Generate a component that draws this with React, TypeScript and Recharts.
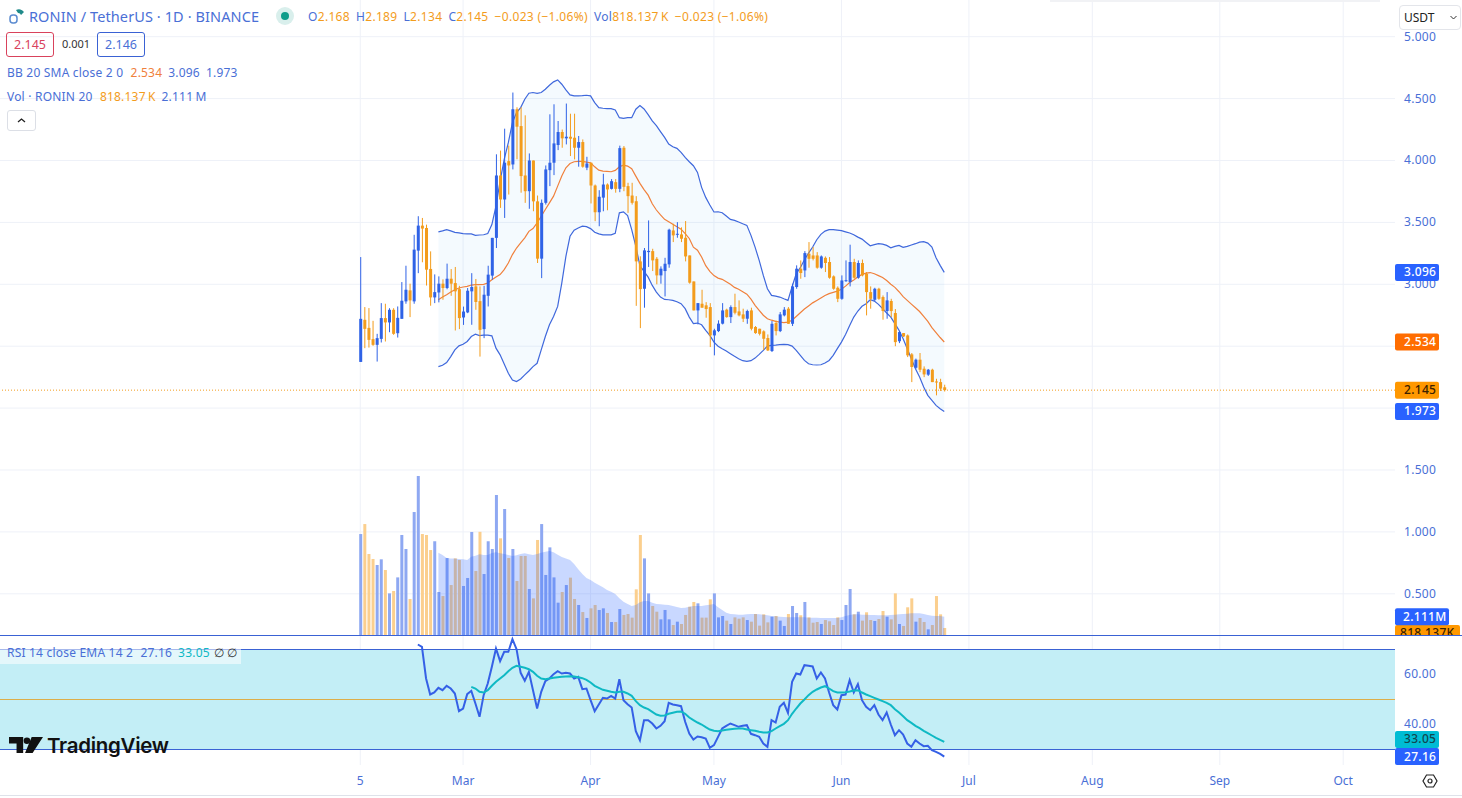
import { Area, Bar, CartesianGrid, ComposedChart, Line, ReferenceArea, ReferenceLine, XAxis, YAxis } from 'recharts'

// daily candles, index 0 is the 5th of February
const opens = [2.373, 2.713, 2.648, 2.557, 2.511, 2.559, 2.727, 2.692, 2.794, 2.605, 2.721, 2.862, 2.951, 2.862, 3.272, 3.474, 3.455, 3.124, 2.894, 2.934,
  3.005, 2.97, 3.045, 3.01, 2.961, 2.732, 2.773, 2.943, 2.983, 2.864, 2.638, 2.907, 3.07, 3.375, 3.879, 3.685, 3.995, 3.968, 4.414, 4.278,
  3.879, 3.752, 4.0, 3.67, 3.207, 3.658, 3.922, 3.982, 4.125, 4.23, 4.179, 4.192, 4.184, 4.103, 4.149, 3.942, 3.982, 3.798, 3.582, 3.7,
  3.806, 3.771, 3.825, 3.771, 4.103, 3.793, 3.717, 3.671, 3.185, 2.964, 3.26, 3.268, 3.206, 3.072, 3.107, 3.161, 3.435, 3.4, 3.403, 3.376,
  3.233, 3.023, 2.789, 2.843, 2.83, 2.816, 2.587, 2.622, 2.682, 2.795, 2.735, 2.816, 2.781, 2.757, 2.722, 2.789, 2.655, 2.641, 2.62, 2.566,
  2.461, 2.687, 2.622, 2.749, 2.803, 2.681, 2.978, 3.126, 3.112, 3.247, 3.233, 3.233, 3.134, 3.214, 3.18, 3.064, 2.972, 2.883, 3.03, 3.018,
  3.18, 3.053, 3.172, 3.085, 2.937, 2.875, 2.964, 2.897, 2.784, 2.865, 2.768, 2.54, 2.606, 2.587, 2.434, 2.326, 2.391, 2.318, 2.27, 2.31, 2.215, 2.21, 2.168]
const closes = [2.721, 2.64, 2.551, 2.511, 2.565, 2.727, 2.692, 2.794, 2.6, 2.729, 2.867, 2.956, 2.87, 3.28, 3.474, 3.45, 3.118, 2.894, 2.937, 3.005,
  2.97, 3.045, 3.005, 2.943, 2.727, 2.78, 2.948, 2.978, 2.857, 2.632, 2.916, 3.078, 3.375, 3.879, 3.685, 3.982, 3.96, 4.414, 4.273, 3.874,
  3.752, 4.0, 3.67, 3.207, 3.658, 3.928, 3.982, 4.138, 4.23, 4.179, 4.192, 4.176, 4.103, 4.149, 3.95, 3.976, 3.798, 3.582, 3.707, 3.806,
  3.766, 3.833, 3.771, 4.1, 3.787, 3.712, 3.658, 3.185, 2.961, 3.274, 3.27, 3.193, 3.072, 3.126, 3.166, 3.441, 3.395, 3.408, 3.368, 3.225,
  3.013, 2.789, 2.848, 2.811, 2.8, 2.587, 2.628, 2.682, 2.789, 2.735, 2.816, 2.77, 2.749, 2.722, 2.784, 2.641, 2.606, 2.6, 2.56, 2.466,
  2.681, 2.622, 2.757, 2.795, 2.681, 2.983, 3.126, 3.091, 3.252, 3.206, 3.206, 3.134, 3.225, 3.172, 3.053, 2.964, 2.883, 3.031, 3.033, 3.18,
  3.053, 3.172, 3.072, 2.937, 2.883, 2.964, 2.883, 2.784, 2.87, 2.784, 2.533, 2.614, 2.579, 2.426, 2.332, 2.391, 2.31, 2.272, 2.31, 2.21, 2.21, 2.157, 2.145]
const highs = [3.22, 2.816, 2.808, 2.705, 2.6, 2.848, 2.843, 2.807, 2.807, 2.821, 3.018, 3.15, 3.005, 3.4, 3.55, 3.536, 3.482, 3.266, 3.08, 3.064,
  3.04, 3.167, 3.123, 3.14, 2.988, 2.82, 2.97, 3.09, 3.043, 2.983, 2.988, 3.15, 3.375, 4.05, 4.08, 4.257, 4.12, 4.549, 4.43, 4.43,
  4.365, 4.057, 4.0, 3.717, 3.685, 3.96, 4.373, 4.454, 4.319, 4.25, 4.46, 4.378, 4.378, 4.198, 4.17, 4.03, 3.982, 3.806, 3.76, 3.893,
  3.815, 3.85, 3.85, 4.12, 4.117, 3.82, 3.82, 3.712, 3.226, 3.293, 3.516, 3.287, 3.22, 3.145, 3.214, 3.449, 3.489, 3.502, 3.46, 3.511,
  3.233, 3.023, 2.848, 2.956, 2.856, 2.848, 2.641, 2.709, 2.848, 2.803, 2.83, 2.924, 2.87, 2.803, 2.795, 2.811, 2.663, 2.641, 2.628, 2.595,
  2.703, 2.708, 2.776, 2.816, 2.816, 3.005, 3.153, 3.193, 3.268, 3.341, 3.301, 3.26, 3.233, 3.225, 3.22, 3.072, 2.983, 3.072, 3.193, 3.32,
  3.206, 3.193, 3.2, 3.099, 2.983, 2.972, 2.972, 2.91, 2.937, 2.883, 2.8, 2.622, 2.606, 2.595, 2.445, 2.4, 2.445, 2.337, 2.316, 2.318, 2.237, 2.237, 2.189]
const lows = [2.373, 2.484, 2.489, 2.503, 2.376, 2.53, 2.538, 2.613, 2.592, 2.57, 2.721, 2.843, 2.735, 2.843, 3.09, 3.178, 2.99, 2.827, 2.848, 2.854,
  2.875, 2.96, 2.907, 2.627, 2.638, 2.672, 2.767, 2.673, 2.794, 2.416, 2.565, 2.821, 3.037, 3.293, 3.617, 3.536, 3.725, 3.928, 4.01, 3.74,
  3.658, 3.61, 3.59, 3.172, 3.05, 3.644, 3.793, 3.882, 4.084, 4.103, 4.13, 4.036, 4.009, 3.95, 3.942, 3.922, 3.653, 3.51, 3.469, 3.59,
  3.598, 3.766, 3.74, 3.744, 3.752, 3.577, 3.644, 2.826, 2.646, 2.811, 3.14, 3.107, 3.0, 3.005, 2.902, 3.134, 3.341, 3.376, 3.341, 3.185,
  3.005, 2.789, 2.676, 2.811, 2.73, 2.493, 2.426, 2.614, 2.676, 2.73, 2.687, 2.757, 2.741, 2.695, 2.681, 2.628, 2.6, 2.587, 2.47, 2.461,
  2.453, 2.587, 2.614, 2.741, 2.681, 2.663, 2.964, 3.045, 3.058, 3.134, 3.193, 3.126, 3.126, 3.099, 3.045, 2.956, 2.856, 2.875, 3.02, 2.983,
  3.045, 3.045, 3.064, 2.749, 2.803, 2.864, 2.875, 2.714, 2.722, 2.735, 2.5, 2.525, 2.574, 2.412, 2.21, 2.318, 2.29, 2.25, 2.26, 2.21, 2.103, 2.138, 2.134]

// volume in millions
const volumes = [11.74, 12.9, 9.42, 8.84, 8.14, 8.8, 7.56, 4.84, 5.12, 6.7, 11.63, 10.0, 4.19, 14.3, 18.49, 11.74, 11.63, 9.88, 10.9, 5.0,
  4.53, 8.95, 5.81, 8.91, 8.72, 5.7, 6.63, 11.98, 7.44, 12.0, 7.09, 10.9, 10.0, 16.28, 11.24, 14.65, 8.95, 10.0, 6.28, 9.19,
  9.19, 5.35, 4.26, 11.05, 12.9, 6.98, 10.19, 6.7, 3.76, 5.0, 5.81, 6.67, 4.19, 3.49, 2.67, 1.98, 3.1, 3.49, 2.91, 3.1,
  2.56, 1.51, 1.51, 3.02, 2.33, 2.44, 2.02, 5.31, 11.63, 8.91, 4.84, 3.37, 2.71, 1.82, 2.91, 1.82, 1.16, 1.55, 1.28, 2.33,
  3.29, 3.84, 3.68, 2.02, 2.02, 4.15, 4.84, 2.05, 2.21, 1.67, 1.28, 2.05, 1.9, 2.05, 1.74, 1.55, 2.44, 1.09, 2.4, 1.47,
  2.13, 2.21, 1.67, 1.05, 2.44, 3.37, 2.56, 2.29, 3.84, 2.05, 1.43, 1.51, 1.28, 1.74, 1.59, 1.16, 2.05, 1.74, 3.49, 5.35,
  2.4, 2.71, 1.67, 2.64, 1.74, 1.63, 1.86, 2.79, 2.13, 1.82, 4.84, 1.28, 1.05, 3.22, 4.26, 1.55, 1.98, 1.51, 0.66, 1.16, 4.53, 2.4, 0.818]

// bollinger bands and volume average start at candle 19
const bbStart = 19
const bbUpper = [3.423, 3.432, 3.442, 3.431, 3.42, 3.415, 3.41, 3.408, 3.407, 3.396, 3.398, 3.4, 3.41, 3.482, 3.631, 3.833, 4.009, 4.144, 4.306, 4.387, 4.427,
  4.495, 4.543, 4.549, 4.543, 4.549, 4.576, 4.608, 4.635, 4.651, 4.616, 4.57, 4.53, 4.522, 4.522, 4.524, 4.527, 4.522, 4.468, 4.427, 4.422,
  4.419, 4.419, 4.408, 4.346, 4.341, 4.346, 4.346, 4.414, 4.443, 4.416, 4.37, 4.32, 4.281, 4.233, 4.187, 4.133, 4.111, 4.098, 4.065, 4.025,
  3.99, 3.958, 3.904, 3.783, 3.702, 3.64, 3.584, 3.586, 3.578, 3.551, 3.524, 3.516, 3.503, 3.489, 3.476, 3.395, 3.3, 3.193, 3.072, 2.964,
  2.91, 2.905, 2.897, 2.883, 2.87, 2.98, 3.085, 3.134, 3.198, 3.252, 3.301, 3.36, 3.403, 3.43, 3.441, 3.441, 3.438, 3.433, 3.424, 3.414,
  3.4, 3.381, 3.365, 3.338, 3.311, 3.32, 3.328, 3.325, 3.314, 3.295, 3.306, 3.314, 3.298, 3.306, 3.317, 3.328, 3.341, 3.344, 3.333, 3.301, 3.214, 3.153, 3.096]
const bbBasis = [2.875, 2.897, 2.916, 2.937, 2.956, 2.97, 2.978, 2.983, 2.994, 2.997, 2.997, 3.0, 3.01, 3.037, 3.059, 3.078, 3.118, 3.172, 3.24, 3.293, 3.334,
  3.375, 3.428, 3.45, 3.496, 3.55, 3.604, 3.658, 3.712, 3.793, 3.874, 3.941, 3.976, 3.99, 3.993, 3.993, 3.987, 3.982, 3.949, 3.922, 3.914,
  3.912, 3.909, 3.92, 3.949, 3.963, 3.955, 3.933, 3.874, 3.815, 3.765, 3.72, 3.65, 3.6, 3.56, 3.525, 3.505, 3.485, 3.465, 3.445, 3.41,
  3.37, 3.3, 3.275, 3.22, 3.15, 3.105, 3.07, 3.05, 3.04, 3.02, 3.0, 2.975, 2.96, 2.94, 2.92, 2.88, 2.83, 2.79, 2.75, 2.722,
  2.71, 2.7, 2.695, 2.69, 2.695, 2.71, 2.74, 2.77, 2.8, 2.825, 2.85, 2.87, 2.89, 2.91, 2.925, 2.935, 2.945, 2.96, 2.985, 3.015,
  3.035, 3.06, 3.08, 3.09, 3.095, 3.085, 3.07, 3.055, 3.03, 3.0, 2.975, 2.94, 2.9, 2.87, 2.84, 2.81, 2.78, 2.74, 2.7, 2.65, 2.61, 2.57, 2.534]
const bbLower = [2.335, 2.346, 2.368, 2.416, 2.47, 2.503, 2.516, 2.538, 2.578, 2.597, 2.586, 2.589, 2.589, 2.584, 2.484, 2.43, 2.357, 2.281, 2.227, 2.214, 2.235,
  2.268, 2.3, 2.335, 2.362, 2.47, 2.578, 2.673, 2.74, 2.821, 3.01, 3.226, 3.388, 3.437, 3.455, 3.469, 3.466, 3.45, 3.42, 3.407, 3.4,
  3.4, 3.4, 3.412, 3.577, 3.585, 3.555, 3.442, 3.307, 3.15, 3.105, 3.058, 2.991, 2.937, 2.897, 2.878, 2.875, 2.87, 2.859, 2.843, 2.803,
  2.735, 2.682, 2.687, 2.673, 2.628, 2.587, 2.533, 2.5, 2.48, 2.461, 2.439, 2.418, 2.399, 2.383, 2.377, 2.383, 2.404, 2.434, 2.466, 2.501,
  2.507, 2.509, 2.512, 2.515, 2.512, 2.501, 2.466, 2.426, 2.385, 2.358, 2.35, 2.348, 2.35, 2.364, 2.385, 2.426, 2.48, 2.533, 2.595, 2.668,
  2.735, 2.784, 2.822, 2.843, 2.875, 2.864, 2.838, 2.803, 2.768, 2.735, 2.682, 2.628, 2.56, 2.48, 2.399, 2.318, 2.251, 2.17, 2.103, 2.062, 2.022, 1.995, 1.973]
const volMa = [9.57, 9.3, 8.95, 8.91, 8.91, 8.84, 8.8, 8.72, 9.11, 9.22, 9.38, 9.3, 9.3, 9.53, 9.61, 9.5, 9.42, 9.3, 9.19, 9.26, 9.42,
  9.5, 9.38, 9.3, 9.42, 9.57, 9.69, 9.77, 9.61, 9.34, 9.07, 8.91, 8.72, 8.26, 7.64, 7.09, 6.63, 6.4, 6.09, 5.81, 5.54,
  5.23, 5.04, 4.77, 4.26, 3.88, 3.6, 3.37, 3.49, 3.8, 3.95, 3.95, 3.76, 3.6, 3.57, 3.53, 3.49, 3.37, 3.26, 3.14, 3.18,
  3.29, 3.37, 3.37, 3.37, 3.45, 3.53, 3.6, 3.22, 2.91, 2.6, 2.44, 2.4, 2.36, 2.36, 2.4, 2.44, 2.44, 2.4, 2.36, 2.29,
  2.21, 2.17, 2.13, 2.09, 2.05, 2.05, 2.05, 2.05, 2.05, 2.02, 2.02, 2.02, 1.98, 1.98, 1.98, 1.98, 1.98, 2.05, 2.21, 2.33,
  2.4, 2.4, 2.36, 2.36, 2.33, 2.33, 2.29, 2.29, 2.29, 2.33, 2.36, 2.4, 2.44, 2.48, 2.52, 2.52, 2.52, 2.44, 2.33, 2.25, 2.21, 2.21, 2.111]

const rsiStart = 14
const rsiValues = [72, 71.07, 58.4, 52, 52.8, 54.67, 53.73, 55.47, 54.4, 52.4, 45.33, 46.4, 52.13, 53.47, 48.4, 43.07, 51.73, 56.4, 63.07, 70.4,
  65.33, 69.07, 69.07, 74.13, 70.13, 60.67, 57.47, 61.07, 53.73, 46.4, 53.07, 57.33, 58.4, 60.13, 61.33, 60.4, 60.67, 60.4, 58.4, 59.07,
  54.13, 54.4, 49.73, 45.33, 48, 50.67, 50.4, 51.47, 50.4, 58.13, 49.73, 48.13, 46.8, 37.33, 33.73, 41.73, 41.73, 40.4, 38.4, 39.47,
  41.33, 48.67, 48, 47.73, 47.33, 41.07, 36.4, 34, 35.2, 34.93, 34.4, 30.67, 31.73, 35.07, 38.4, 39.47, 40.4, 39.73, 39.07, 39.47,
  39.73, 36.27, 35.73, 35.07, 32.4, 31.07, 41.73, 40.8, 47.07, 48.67, 44.67, 57.07, 60.4, 60, 63.73, 63.47, 63.2, 58.4, 60.8, 58.4,
  52.8, 47.73, 46, 51.73, 52, 57.73, 52.8, 56.13, 49.73, 47.07, 45.73, 47.73, 44, 41.73, 44.8, 40, 35.73, 37.73, 36, 32.4,
  31.07, 33.73, 32.4, 31.33, 31.47, 29.73, 29.07, 28.27, 27.16]
const rsiEmaStart = 27
const rsiEma = [55.07, 54.4, 53.07, 52.8, 53.73, 55.47, 57.07, 58.4, 59.73, 61.33, 62.67, 63.47, 63.07, 62.67, 62.13, 61.07, 59.47, 58.4, 58.13, 58.4,
  58.67, 58.93, 59.07, 59.2, 59.33, 59.2, 58.93, 58.53, 57.87, 56.8, 55.47, 54.67, 53.87, 53.47, 53.07, 52.8, 53.07, 53.07, 52.4, 51.47,
  49.33, 47.73, 46.8, 46.13, 45.07, 44, 43.47, 43.6, 44.27, 44.67, 45.07, 45.2, 44.27, 42.8, 41.73, 40.8, 40, 38.93, 38, 37.47,
  37.33, 37.6, 37.87, 38.13, 38.27, 38.4, 38.4, 38, 37.73, 37.47, 37.07, 36.8, 36.8, 37.33, 38.4, 39.33, 40.27, 41.73, 44.27, 46.4,
  48.4, 50, 51.73, 53.07, 54, 54.8, 55.33, 54.4, 53.33, 52.8, 52.8, 52.93, 53.2, 53.6, 53.73, 52.8, 52, 51.33, 50.67, 50,
  49.33, 48.67, 47.73, 46.13, 44.8, 43.33, 41.73, 40.67, 39.47, 38.53, 37.47, 36.53, 35.6, 34.67, 33.87, 33.05]

const timeTicks = [0, 25, 56, 86, 117, 148, 178, 209, 239]
const timeLabels = ['5', 'Mar', 'Apr', 'May', 'Jun', 'Jul', 'Aug', 'Sep', 'Oct']
const priceTicks = [0.5, 1, 1.5, 3, 3.5, 4, 4.5, 5]
const priceGrid = [0.5, 1, 1.5, 2, 2.5, 3, 3.5, 4, 4.5, 5]
const rsiTicks = [60, 40]

const BLUE = '#2f62e6'
const ORANGE = '#f39c1c'
const TEXT_BLUE = '#4a6fd6'
const FONT = '"Noto Sans", sans-serif'

const rows = opens.map((open, i) => ({
  i,
  open,
  close: closes[i],
  high: highs[i],
  low: lows[i],
  volume: volumes[i],
  upper: i >= bbStart ? bbUpper[i - bbStart] : null,
  basis: i >= bbStart ? bbBasis[i - bbStart] : null,
  lower: i >= bbStart ? bbLower[i - bbStart] : null,
  volMa: i >= bbStart ? volMa[i - bbStart] : null,
  rsi: i >= rsiStart ? rsiValues[i - rsiStart] : null,
  rsiEma: i >= rsiEmaStart ? rsiEma[i - rsiEmaStart] : null,
}))

// same time scale on both panes, x = 360.3 + 4.113 * index
const timeDomain = [-87.6, 251.6]

const priceTags: any = {
  3.096: { text: '3.096', bg: '#2962ff', color: '#fff', dy: 0 },
  2.534: { text: '2.534', bg: '#ff6d00', color: '#fff', dy: 0 },
  2.145: { text: '2.145', bg: '#ff9800', color: '#3b2100', dy: 0 },
  1.973: { text: '1.973', bg: '#2962ff', color: '#fff', dy: 0 },
}
const rsiTags: any = {
  33.05: { text: '33.05', bg: '#00bcd4', color: '#10474f', dy: -2.5 },
  27.16: { text: '27.16', bg: '#2962ff', color: '#fff', dy: 0 },
}

function Tag({ x, y, tag, width = 44, pad = 9 }: any) {
  return (
    <g>
      <rect x={x} y={y + tag.dy - 8.5} width={width} height={17} rx={2} fill={tag.bg} />
      <text x={x + pad} y={y + tag.dy + 4} fontSize={12} fontFamily={FONT} fontWeight={500} letterSpacing={0.3} fill={tag.color}>{tag.text}</text>
    </g>
  )
}

// the axis hands over x 8px right of the pane edge
function axisTick(tags: any, format: (v: number) => string, textDy = 4) {
  return ({ x, y, payload }: any) => {
    const tag = tags[payload.value]
    if (tag) return <Tag x={x - 8} y={y} tag={tag} />
    return (
      <text x={x + 1} y={y + textDy} fontSize={12} fontFamily={FONT} letterSpacing={0.3} fill={TEXT_BLUE}>{format(payload.value)}</text>
    )
  }
}

function Candle({ x, y, width, height, payload }: any) {
  const { open, close, high, low } = payload
  const color = close >= open ? BLUE : ORANGE
  const perUnit = height / (high - low)
  const top = y + (high - Math.max(open, close)) * perUnit
  const bodyH = Math.max(1, Math.abs(close - open) * perUnit)
  const mid = x + width / 2
  return (
    <g>
      <rect x={mid - 0.5} y={y} width={1} height={height} fill={color} />
      <rect x={mid - 1.5} y={top} width={3} height={bodyH} fill={color} />
    </g>
  )
}

function VolumeBar({ x, y, width, height, payload }: any) {
  const color = payload.close >= payload.open ? '#8ea8f2' : '#fbcf8e'
  return <rect x={x} y={y} width={width} height={height} fill={color} />
}

function volumeTag(tag: any, width: number, pad: number) {
  return ({ viewBox }: any) => <Tag x={viewBox.x + viewBox.width} y={viewBox.y} tag={tag} width={width} pad={pad} />
}

function PriceChart() {
  return (
    <ComposedChart width={1462} height={635} data={rows} margin={{ top: 0, right: 0, bottom: 0, left: 0 }}>
      <CartesianGrid stroke="#eef1f8" horizontalValues={priceGrid} verticalValues={timeTicks} yAxisId="price" xAxisId="price" />
      <XAxis xAxisId="price" dataKey="i" type="number" domain={timeDomain} hide />
      <XAxis xAxisId="vol" dataKey="i" type="number" domain={timeDomain} hide />
      <YAxis
        yAxisId="price"
        orientation="right"
        width={67}
        domain={[0.1672, 5.2964]}
        ticks={[...priceTicks, 1.973, 3.096, 2.534, 2.145]}
        interval={0}
        axisLine={false}
        tickLine={false}
        tick={axisTick(priceTags, v => v.toFixed(3))}
      />
      <YAxis yAxisId="vol" hide domain={[0, 73.84]} />
      <Bar xAxisId="vol" yAxisId="vol" dataKey="volume" barSize={3} shape={<VolumeBar />} isAnimationActive={false} />
      <Area xAxisId="vol" yAxisId="vol" dataKey="volMa" stroke="none" fill="#2962ff" fillOpacity={0.25} baseValue={0} dot={false} activeDot={false} isAnimationActive={false} {...({ zIndex: 350 } as any)} />
      <Area
        xAxisId="price"
        yAxisId="price"
        dataKey={(r: any) => (r.upper == null ? [null, null] : [r.lower, r.upper])}
        stroke="none"
        fill="#2196f3"
        fillOpacity={0.05}
        dot={false}
        activeDot={false}
        isAnimationActive={false}
      />
      <Line xAxisId="price" yAxisId="price" dataKey="upper" stroke="#3f68dc" strokeWidth={1.2} dot={false} activeDot={false} isAnimationActive={false} />
      <Line xAxisId="price" yAxisId="price" dataKey="lower" stroke="#3f68dc" strokeWidth={1.2} dot={false} activeDot={false} isAnimationActive={false} />
      <Line xAxisId="price" yAxisId="price" dataKey="basis" stroke="#f0803c" strokeWidth={1.2} dot={false} activeDot={false} isAnimationActive={false} />
      <ReferenceLine xAxisId="price" yAxisId="price" y={2.145} stroke={ORANGE} strokeDasharray="1 2" />
      <Bar xAxisId="price" yAxisId="price" dataKey={(r: any) => [r.low, r.high]} barSize={3} shape={<Candle />} isAnimationActive={false} {...({ zIndex: 500 } as any)} />
      <ReferenceLine xAxisId="vol" yAxisId="vol" y={0.818} stroke="none" label={volumeTag({ text: '818.137K', bg: '#ff9800', color: '#3b2100', dy: 5.5 }, 65, 5)} />
      <ReferenceLine xAxisId="vol" yAxisId="vol" y={2.111} stroke="none" label={volumeTag({ text: '2.111M', bg: '#2962ff', color: '#fff', dy: 0 }, 54, 8)} />
    </ComposedChart>
  )
}

function RsiChart() {
  return (
    <ComposedChart width={1462} height={159} data={rows} margin={{ top: 0, right: 0, bottom: 0, left: 0 }}>
      <CartesianGrid stroke="#eef1f8" horizontal={false} verticalValues={timeTicks} />
      <XAxis
        dataKey="i"
        type="number"
        domain={timeDomain}
        ticks={timeTicks}
        interval={0}
        height={30}
        axisLine={false}
        tickLine={false}
        tickMargin={5}
        tick={{ fontSize: 12, fontFamily: FONT, fill: TEXT_BLUE }}
        tickFormatter={(v: number) => timeLabels[timeTicks.indexOf(v)]}
      />
      <YAxis
        orientation="right"
        width={67}
        domain={[23.8, 75.4]}
        ticks={[...rsiTicks, 33.05, 27.16]}
        interval={0}
        axisLine={false}
        tickLine={false}
        tick={axisTick(rsiTags, v => v.toFixed(2), 3)}
      />
      <ReferenceArea y1={30} y2={70} fill="#c3eef6" fillOpacity={1} stroke="none" />
      <ReferenceLine y={70} stroke="#3a62d4" />
      <ReferenceLine y={30} stroke="#3a62d4" />
      <ReferenceLine y={50} stroke="#dcae4a" />
      <Line dataKey="rsi" stroke="#3560e6" strokeWidth={2} dot={false} activeDot={false} isAnimationActive={false} />
      <Line dataKey="rsiEma" stroke="#0fb9c4" strokeWidth={2} dot={false} activeDot={false} isAnimationActive={false} />
    </ComposedChart>
  )
}

const legendRow = { position: 'absolute', left: 7, whiteSpace: 'nowrap', fontSize: 12, letterSpacing: 0.2 } as any
const ohlcGap = { marginLeft: 6 }

export default function App() {
  return (
    <div style={{ position: 'absolute', left: 0, top: 0, width: 1462, height: 798, overflow: 'hidden', background: '#fff', fontFamily: FONT, color: TEXT_BLUE }}>
      <div style={{ position: 'absolute', left: 0, top: 0 }}><PriceChart /></div>
      <div style={{ position: 'absolute', left: 0, top: 635, width: 1462, height: 1, background: '#3a62d4' }} />
      <div style={{ position: 'absolute', left: 0, top: 636 }}><RsiChart /></div>
      <div style={{ position: 'absolute', left: 0, top: 795, width: 1462, height: 1, background: '#dfe2ea' }} />
      <div style={{ position: 'absolute', left: 1050, top: 0, width: 330, height: 2, background: '#f1f2f5' }} />

      {/* header */}
      <svg style={{ position: 'absolute', left: 8, top: 7 }} width={18} height={17} viewBox="0 0 18 17">
        <path d="M8 3 A6 6 0 0 1 16 5 L13 8 A3 3 0 0 0 10 6 Z" fill="#1f8a8a" />
        <rect x={2} y={8} width={7} height={8} rx={3} fill="none" stroke="#5b8bd0" strokeWidth={1.5} />
      </svg>
      <div style={{ position: 'absolute', left: 29, top: 6, fontSize: 14.5, letterSpacing: 0.1, whiteSpace: 'nowrap' }}>RONIN / TetherUS · 1D · BINANCE</div>
      <div style={{ position: 'absolute', left: 276, top: 7, width: 18, height: 18, borderRadius: 9, background: '#d9efec' }} />
      <div style={{ position: 'absolute', left: 281, top: 12, width: 8, height: 8, borderRadius: 4, background: '#0f9d8a' }} />
      <div style={{ position: 'absolute', left: 308, top: 8, fontSize: 12, whiteSpace: 'nowrap', letterSpacing: 0.32 }}>
        O<span style={{ color: ORANGE }}>2.168</span>
        <span style={ohlcGap}>H</span><span style={{ color: ORANGE }}>2.189</span>
        <span style={ohlcGap}>L</span><span style={{ color: ORANGE }}>2.134</span>
        <span style={ohlcGap}>C</span><span style={{ color: ORANGE }}>2.145</span>
        <span style={{ ...ohlcGap, color: ORANGE }}>−0.023 (−1.06%)</span>
        <span style={ohlcGap}>Vol</span><span style={{ color: ORANGE }}>818.137{'\u2009'}K</span>
        <span style={{ ...ohlcGap, color: ORANGE }}>−0.023 (−1.06%)</span>
      </div>

      <div style={{ position: 'absolute', left: 6, top: 32, width: 46, height: 23, border: '1px solid #d9425c', borderRadius: 3, color: '#d9425c', fontSize: 12.5, textAlign: 'center', lineHeight: '23px' }}>2.145</div>
      <div style={{ position: 'absolute', left: 62, top: 36, fontSize: 11, color: '#333', lineHeight: '15px' }}>0.001</div>
      <div style={{ position: 'absolute', left: 97, top: 32, width: 46, height: 23, border: '1px solid #3a62d4', borderRadius: 3, fontSize: 12.5, textAlign: 'center', lineHeight: '23px' }}>2.146</div>

      <div style={{ ...legendRow, top: 64 }}>
        BB 20 SMA close 2 0 <span style={{ color: '#f0803c', marginLeft: 4 }}>2.534</span><span style={{ marginLeft: 6 }}>3.096</span><span style={{ marginLeft: 6 }}>1.973</span>
      </div>
      <div style={{ ...legendRow, top: 88 }}>
        Vol · RONIN 20 <span style={{ color: ORANGE, marginLeft: 4 }}>818.137{'\u2009'}K</span><span style={{ marginLeft: 6 }}>2.111{'\u2009'}M</span>
      </div>
      <div style={{ position: 'absolute', left: 7, top: 110, width: 27, height: 19, border: '1px solid #dcdfe6', borderRadius: 3, background: '#fff' }}>
        <svg width={27} height={19}><path d="M10 11 L13.5 8 L17 11" fill="none" stroke="#222" strokeWidth={1.3} /></svg>
      </div>

      {/* rsi legend */}
      <div style={{ position: 'absolute', left: 0, top: 640, width: 241, height: 24, background: 'rgba(255,255,255,0.55)' }} />
      <div style={{ ...legendRow, top: 644 }}>
        RSI 14 close EMA 14 2 <span style={{ marginLeft: 4 }}>27.16</span><span style={{ color: '#0fb9c4', marginLeft: 6 }}>33.05</span><span style={{ color: '#333', marginLeft: 4 }}>∅</span><span style={{ color: '#333', marginLeft: 3 }}>∅</span>
      </div>

      {/* watermark */}
      <svg style={{ position: 'absolute', left: 9, top: 737 }} width={34} height={17} viewBox="0 0 36 18">
        <path d="M0 0 H15 V17 H8 V7 H0 Z M25 17 H17 L24 0 H36 Z" fill="#111" />
        <circle cx={19} cy={4} r={3.5} fill="#111" />
      </svg>
      <div style={{ position: 'absolute', left: 47, top: 733, fontSize: 20.5, fontWeight: 600, color: '#111', fontFamily: 'Inter, sans-serif', whiteSpace: 'nowrap', letterSpacing: -0.3 }}>TradingView</div>

      {/* currency box and settings */}
      <div style={{ position: 'absolute', left: 1399, top: 5, width: 62, height: 25, border: '1px solid #e3e5ea', borderRadius: 4, background: '#fff', color: '#222', fontSize: 12, lineHeight: '24px', paddingLeft: 4, boxSizing: 'border-box' }}>
        USDT
        <svg style={{ position: 'absolute', left: 50, top: 9 }} width={7} height={5}><path d="M0.5 1 L3.5 4 L6.5 1" fill="none" stroke="#333" strokeWidth={1} /></svg>
      </div>
      <svg style={{ position: 'absolute', left: 1422, top: 773 }} width={16} height={16} viewBox="0 0 16 16">
        <path d="M4.5 2 H11.5 L15 8 L11.5 14 H4.5 L1 8 Z" fill="none" stroke="#222" strokeWidth={1.2} />
        <circle cx={8} cy={8} r={2} fill="none" stroke="#222" strokeWidth={1.2} />
      </svg>
    </div>
  )
}
